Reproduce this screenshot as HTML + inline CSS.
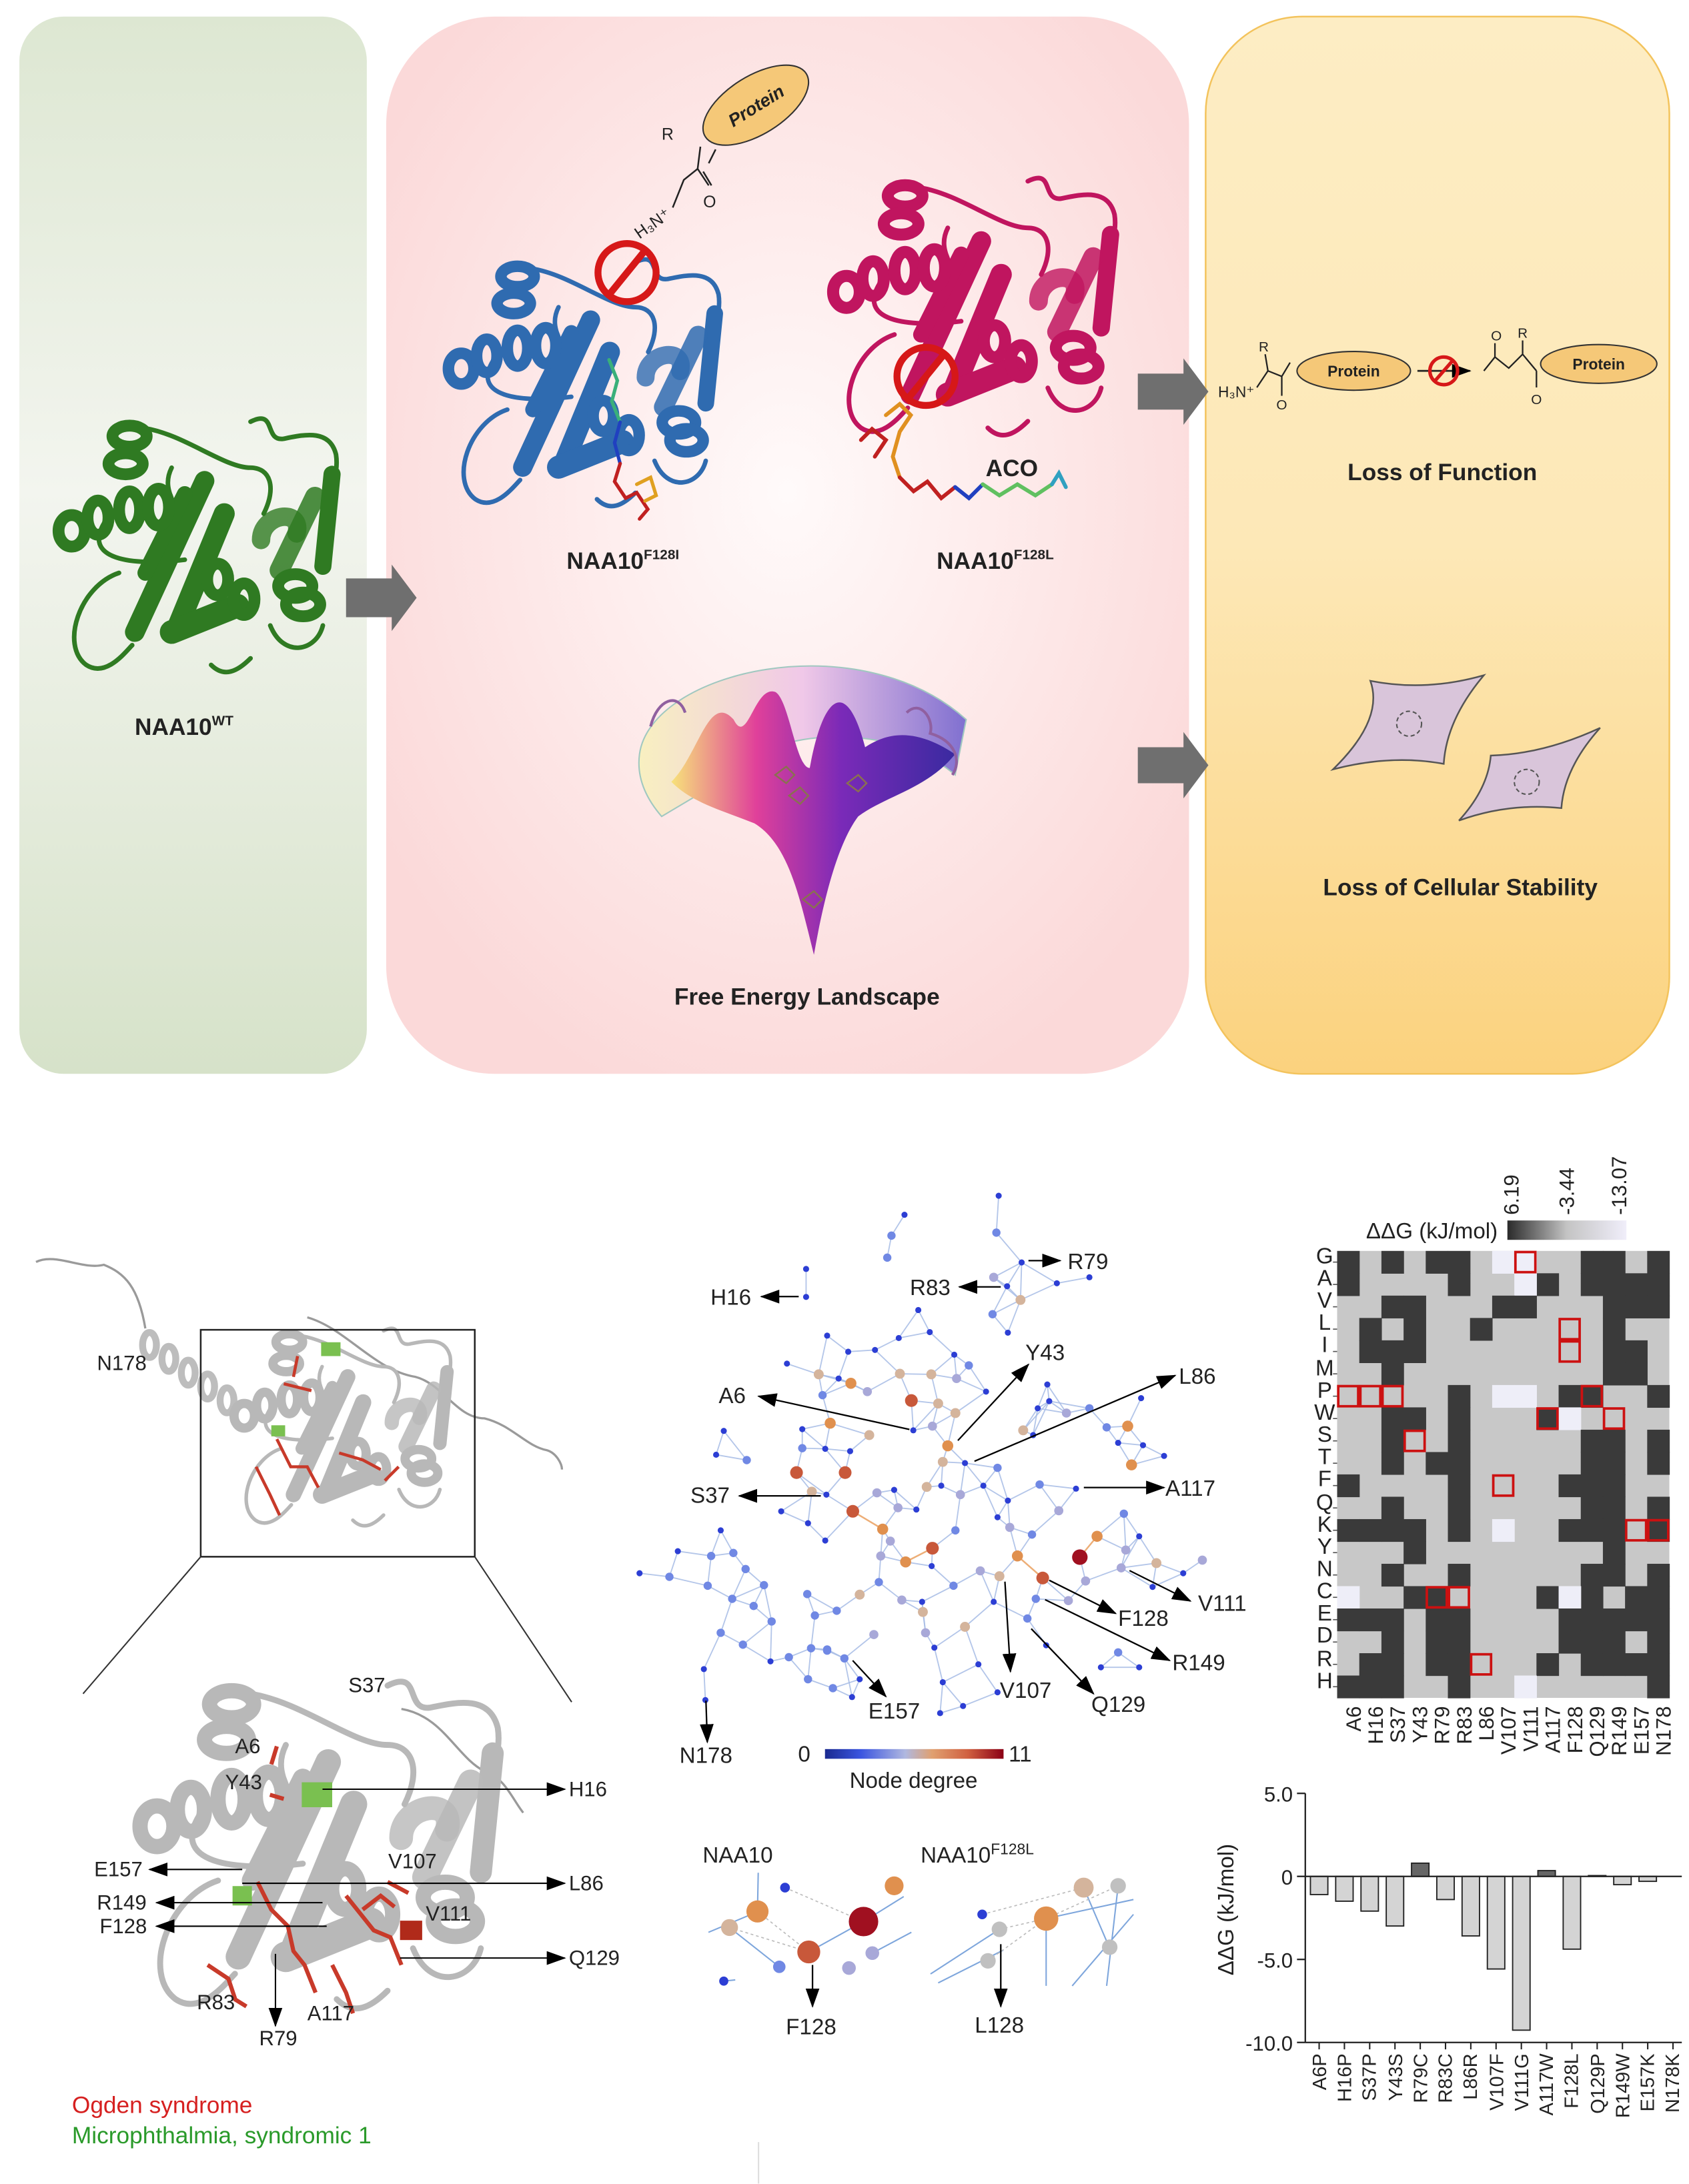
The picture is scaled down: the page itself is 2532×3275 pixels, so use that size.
<!DOCTYPE html>
<html><head><meta charset="utf-8">
<style>
html,body{margin:0;padding:0;background:#fff;}
svg{display:block;}
text{font-family:"Liberation Sans",Arial,sans-serif;}
</style></head>
<body>
<svg id="S" xmlns="http://www.w3.org/2000/svg" width="2532" height="3275" viewBox="0 0 1220.2 1578.3" preserveAspectRatio="none">
<defs>
 <linearGradient id="gGreen" x1="0" y1="0" x2="0" y2="1">
  <stop offset="0" stop-color="#dde7d2"/><stop offset="0.45" stop-color="#f3f5ef"/><stop offset="1" stop-color="#d6e2c9"/>
 </linearGradient>
 <radialGradient id="gPink" cx="0.5" cy="0.45" r="0.6">
  <stop offset="0" stop-color="#fffafa"/><stop offset="0.6" stop-color="#fde6e6"/><stop offset="1" stop-color="#fbd9d9"/>
 </radialGradient>
 <linearGradient id="gYel" x1="0" y1="0" x2="0" y2="1">
  <stop offset="0" stop-color="#fdedc4"/><stop offset="0.5" stop-color="#fde8b7"/><stop offset="1" stop-color="#fbd27e"/>
 </linearGradient>
 <linearGradient id="gLand" x1="0" y1="0" x2="1" y2="0">
  <stop offset="0" stop-color="#f7e27a"/><stop offset="0.3" stop-color="#e0409a"/><stop offset="0.6" stop-color="#7a2ab8"/><stop offset="1" stop-color="#3a2aa0"/>
 </linearGradient>
 <linearGradient id="gBowl" x1="0" y1="0" x2="1" y2="0">
  <stop offset="0" stop-color="#f8f0c0"/><stop offset="0.5" stop-color="#f0c8e8"/><stop offset="1" stop-color="#8070d0"/>
 </linearGradient>
 <linearGradient id="gHeat" x1="0" y1="0" x2="1" y2="0">
  <stop offset="0" stop-color="#2a2a2a"/><stop offset="0.5" stop-color="#c4c4c4"/><stop offset="1" stop-color="#f0eefa"/>
 </linearGradient>
 <linearGradient id="gDeg" x1="0" y1="0" x2="1" y2="0">
  <stop offset="0" stop-color="#1a2a90"/><stop offset="0.2" stop-color="#3b55e0"/><stop offset="0.45" stop-color="#b0b8e0"/><stop offset="0.6" stop-color="#e0a070"/><stop offset="0.8" stop-color="#d06040"/><stop offset="1" stop-color="#8b0015"/>
 </linearGradient>
 <marker id="ah" markerUnits="userSpaceOnUse" markerWidth="14" markerHeight="10" refX="13" refY="5" orient="auto">
  <path d="M0,0 L14,5 L0,10 z" fill="#000"/>
 </marker>
 <symbol id="prot" viewBox="0 0 220 200" overflow="visible">
  <g fill="none" stroke="currentColor" stroke-linecap="round" stroke-linejoin="round">
   <path d="M70,10 C100,15 130,40 150,40 C165,40 170,55 160,75" stroke-width="3.5"/>
   <path d="M150,5 C170,-5 160,20 175,18 C190,15 210,10 215,30 C218,50 205,60 212,80" stroke-width="3.5"/>
   <path d="M50,120 C20,130 5,175 25,190 C40,200 55,180 60,175" stroke-width="3.5"/>
   <path d="M40,80 C20,110 60,115 100,110" stroke-width="3.5"/>
   <path d="M165,160 C175,185 200,180 205,160" stroke-width="3.5"/>
   <path d="M120,190 C130,200 140,195 150,185" stroke-width="3.5"/>
   <path d="M90,40 C80,60 100,70 95,90" stroke-width="3.5"/>
   <path d="M115,50 L62,165" stroke-width="15"/>
   <path d="M130,75 L95,160" stroke-width="16"/>
   <path d="M100,60 L70,120" stroke-width="12"/>
   <path d="M90,165 L140,145" stroke-width="18"/>
   <path d="M212,45 L205,115" stroke-width="13"/>
   <path d="M199,62 L172,118" stroke-width="15" opacity="0.85"/>
   <path d="M158,95 C158,75 190,70 185,90" stroke-width="14" opacity="0.8"/>
  </g>
  <g fill="none" stroke="currentColor" stroke-width="9">
   <ellipse cx="58" cy="16" rx="13" ry="8"/>
   <ellipse cx="55" cy="37" rx="13" ry="8"/>
   <ellipse cx="14" cy="88" rx="10" ry="12"/>
   <ellipse cx="34" cy="78" rx="8" ry="13"/>
   <ellipse cx="58" cy="72" rx="8" ry="14"/>
   <ellipse cx="80" cy="70" rx="8" ry="14"/>
   <ellipse cx="125" cy="125" rx="8" ry="12"/>
   <ellipse cx="145" cy="140" rx="8" ry="12"/>
   <ellipse cx="184" cy="130" rx="13" ry="9"/>
   <ellipse cx="190" cy="144" rx="13" ry="9"/>
  </g>
 </symbol>
</defs>

<!-- TOP PANELS -->
<rect x="14" y="12" width="251" height="764" rx="32" fill="url(#gGreen)"/>
<rect x="279" y="12" width="580" height="764" rx="78" fill="url(#gPink)"/>
<rect x="871" y="12" width="335" height="764" rx="70" fill="url(#gYel)" stroke="#f3c35c" stroke-width="1.2"/>

<path d="M250,418 L283,418 L283,408 L301,432 L283,456 L283,446 L250,446 Z" fill="#6f6f6f"/>
<path d="M822,270 L855,270 L855,259 L873,283 L855,307 L855,296 L822,296 Z" fill="#6f6f6f"/>
<path d="M822,540 L855,540 L855,529 L873,553 L855,577 L855,566 L822,566 Z" fill="#6f6f6f"/>

<use href="#prot" x="32" y="300" width="222" height="190" style="color:#2f7a22"/>
<use href="#prot" x="316" y="185" width="212" height="185" style="color:#2f6bb0"/>
<use href="#prot" x="598" y="125" width="212" height="195" style="color:#c0155f"/>

<g fill="none" stroke-width="2.5" stroke-linecap="round">
 <path d="M440,260 L446,275 L442,290 L448,305" stroke="#3ab07a"/>
 <path d="M448,305 L444,320 L448,335" stroke="#2040c0"/>
 <path d="M448,335 L444,348 L452,360 L460,356 L468,368 L462,375" stroke="#c02020"/>
 <path d="M460,350 L470,345 L474,358 L466,362" stroke="#e0a020"/>
</g>
<g fill="none" stroke-width="2.8" stroke-linecap="round">
 <path d="M622,318 L630,310 L640,318 L632,330" stroke="#c02020"/>
 <path d="M640,300 L650,292 L658,300 L650,312 L645,330 L650,345" stroke="#e09020"/>
 <path d="M650,345 L660,355 L670,348 L680,360 L690,352" stroke="#c02020"/>
 <path d="M690,352 L700,360 L710,350" stroke="#2040c0"/>
 <path d="M710,350 L722,358 L735,350 L748,358 L760,350" stroke="#60c060"/>
 <path d="M760,350 L765,342 L770,352" stroke="#30a0c0"/>
</g>

<ellipse cx="546" cy="76" rx="43" ry="21" transform="rotate(-32 546 76)" fill="#f5c878" stroke="#333" stroke-width="1"/>
<text x="546" y="81" font-size="13" font-weight="bold" font-style="italic" text-anchor="middle" transform="rotate(-32 546 76)" fill="#222">Protein</text>
<path d="M486,150 L494,130 L504,122 L506,106 M504,122 L512,134 M508,124 L514,134 M512,118 L517,108" stroke="#222" stroke-width="1.2" fill="none"/>
<text x="478" y="101" font-size="12" fill="#222">R</text>
<text x="508" y="150" font-size="12" fill="#222">O</text>
<text x="456" y="166" font-size="12" fill="#222" transform="rotate(-35 470 160)">H₃N⁺</text>

<g fill="none" stroke="#d61818" stroke-width="5">
 <circle cx="453" cy="197" r="21"/><line x1="440" y1="213" x2="466" y2="181"/>
 <circle cx="669" cy="272" r="21"/><line x1="656" y1="288" x2="682" y2="256"/>
</g>

<path d="M462,545 C470,485 620,450 698,520 L690,560 C650,525 560,520 520,565 L478,590 C465,575 460,560 462,545 Z" fill="url(#gBowl)" stroke="#a0c8c0" stroke-width="1"/>
<path d="M485,565 C505,545 512,500 530,520 C540,540 545,495 560,500 C570,505 575,555 585,555 C595,500 612,490 625,540 C640,530 660,525 690,545 C670,570 640,575 620,590 C605,610 595,650 588,690 C578,650 570,610 545,595 C520,585 500,580 485,565 Z" fill="url(#gLand)"/>
<path d="M470,525 C475,505 490,500 495,515" stroke="#9060a0" stroke-width="2" fill="none"/>
<path d="M655,515 C665,505 675,520 672,530 C690,535 695,550 688,560" stroke="#9060a0" stroke-width="2" fill="none"/>
<g fill="none" stroke="#8a7050" stroke-width="1.2"><path d="M560,560 l8,-6 l6,6 l-6,6z M570,575 l8,-6 l6,6 l-6,6z M612,566 l8,-6 l6,6 l-6,6z M580,650 l8,-6 l6,6 l-6,6z"/></g>

<text x="880" y="287" font-size="11" fill="#222">H₃N⁺</text>
<path d="M908,280 L916,268 L926,272 L932,262 M916,268 L914,256 M926,272 L926,286" stroke="#222" stroke-width="1.1" fill="none"/>
<text x="913" y="254" font-size="10" fill="#222" text-anchor="middle">R</text>
<text x="926" y="296" font-size="10" fill="#222" text-anchor="middle">O</text>
<ellipse cx="978" cy="268" rx="41" ry="14" fill="#f5c878" stroke="#333" stroke-width="1"/>
<text x="978" y="272" font-size="11" font-weight="bold" text-anchor="middle" fill="#222">Protein</text>
<line x1="1024" y1="268" x2="1062" y2="268" stroke="#222" stroke-width="1.3" marker-end="url(#ah)"/>
<g fill="none" stroke="#d61818" stroke-width="2.5"><circle cx="1043" cy="268" r="10"/><line x1="1036" y1="276" x2="1050" y2="260"/></g>
<path d="M1072,268 L1080,258 L1090,266 L1100,256 L1110,268 M1080,258 L1080,248 M1100,256 L1100,246 M1110,268 L1110,280" stroke="#222" stroke-width="1.1" fill="none"/>
<text x="1081" y="246" font-size="10" fill="#222" text-anchor="middle">O</text>
<text x="1100" y="244" font-size="10" fill="#222" text-anchor="middle">R</text>
<text x="1110" y="292" font-size="10" fill="#222" text-anchor="middle">O</text>
<ellipse cx="1155" cy="263" rx="42" ry="14" fill="#f5c878" stroke="#333" stroke-width="1"/>
<text x="1155" y="267" font-size="11" font-weight="bold" text-anchor="middle" fill="#222">Protein</text>

<path d="M963,556 Q1000,520 990,492 Q1030,500 1072,488 Q1045,520 1043,552 Q1005,545 963,556 Z" fill="#d9c5da" stroke="#555" stroke-width="1.2"/>
<circle cx="1018" cy="523" r="9" fill="none" stroke="#555" stroke-dasharray="3 2"/>
<path d="M1054,593 Q1075,570 1077,546 Q1115,545 1156,526 Q1130,555 1128,584 Q1090,580 1054,593 Z" fill="#d9c5da" stroke="#555" stroke-width="1.2"/>
<circle cx="1103" cy="565" r="9" fill="none" stroke="#555" stroke-dasharray="3 2"/>

<g font-weight="bold" font-size="17" fill="#222" text-anchor="middle">
 <text x="133" y="531">NAA10<tspan font-size="10" dy="-7">WT</tspan></text>
 <text x="450" y="411">NAA10<tspan font-size="10" dy="-7">F128I</tspan></text>
 <text x="719" y="411">NAA10<tspan font-size="10" dy="-7">F128L</tspan></text>
 <text x="731" y="344">ACO</text>
 <text x="583" y="726">Free Energy Landscape</text>
 <text x="1042" y="347">Loss of Function</text>
 <text x="1055" y="647">Loss of Cellular Stability</text>
</g>

<!-- BOTTOM LEFT -->
<g fill="none" stroke="#9a9a9a" stroke-width="1.6">
 <path d="M26,912 C40,905 60,918 75,914 C90,920 100,930 105,960"/>
 <path d="M222,952 C250,960 270,990 300,995 C320,1000 330,1025 350,1025 C370,1030 380,1045 395,1048 C402,1050 406,1058 406,1062"/>
 <path d="M290,1235 C320,1240 330,1270 350,1280 C365,1285 370,1300 378,1310"/>
</g>
<g fill="none" stroke="#bdbdbd" stroke-width="5">
 <ellipse cx="108" cy="972" rx="5" ry="9"/><ellipse cx="122" cy="982" rx="5" ry="9"/><ellipse cx="136" cy="992" rx="5" ry="9"/><ellipse cx="150" cy="1002" rx="5" ry="9"/><ellipse cx="164" cy="1012" rx="5" ry="9"/>
</g>
<use href="#prot" x="160" y="958" width="175" height="148" style="color:#b8b8b8"/>
<g fill="none" stroke="#c83a2a" stroke-width="2.2"><path d="M215,980 L212,995 M205,1000 L225,1005 M200,1040 L210,1060 L222,1060 L230,1075 M245,1050 L262,1055 L275,1062 M185,1060 L195,1080 L202,1095 M278,1070 L288,1060"/></g>
<rect x="232" y="970" width="14" height="10" fill="#7ac050"/><rect x="196" y="1030" width="10" height="8" fill="#7ac050"/>
<text x="88" y="990" font-size="15" text-anchor="middle" fill="#222">N178</text>
<rect x="145" y="961" width="198" height="164" fill="none" stroke="#222" stroke-width="1.2"/>
<line x1="145" y1="1125" x2="60" y2="1224" stroke="#333" stroke-width="1"/>
<line x1="343" y1="1125" x2="413" y2="1230" stroke="#333" stroke-width="1"/>
<use href="#prot" x="72" y="1212" width="318" height="245" style="color:#b8b8b8"/>
<g fill="none" stroke="#c83a2a" stroke-width="3"><path d="M200,1262 L196,1275 M195,1297 L205,1300 M186,1360 L196,1380 L208,1392 L212,1410 L220,1420 L228,1440 M150,1420 L165,1430 L170,1445 L178,1450 M250,1370 L262,1385 L270,1395 L282,1400 L290,1420 M280,1360 L295,1368 M262,1380 L275,1370 L285,1378 M240,1420 L250,1440 L255,1455"/></g>
<rect x="218" y="1288" width="22" height="18" fill="#7ac050"/><rect x="168" y="1363" width="14" height="14" fill="#7ac050"/>
<rect x="289" y="1388" width="16" height="14" fill="#b02a1a"/>
<g stroke="#000" stroke-width="1" fill="none" marker-end="url(#ah)">
 <line x1="233" y1="1293" x2="408" y2="1293"/>
 <line x1="175" y1="1351" x2="108" y2="1351"/>
 <line x1="175" y1="1361" x2="408" y2="1361"/>
 <line x1="233" y1="1375" x2="113" y2="1375"/>
 <line x1="236" y1="1392" x2="113" y2="1392"/>
 <line x1="289" y1="1415" x2="408" y2="1415"/>
 <line x1="199" y1="1412" x2="199" y2="1464"/>
</g>
<g font-size="15" fill="#222">
 <text x="265" y="1223" text-anchor="middle">S37</text>
 <text x="179" y="1267" text-anchor="middle">A6</text>
 <text x="176" y="1293" text-anchor="middle">Y43</text>
 <text x="411" y="1298">H16</text>
 <text x="68" y="1356">E157</text>
 <text x="298" y="1350" text-anchor="middle">V107</text>
 <text x="411" y="1366">L86</text>
 <text x="70" y="1380">R149</text>
 <text x="324" y="1388" text-anchor="middle">V111</text>
 <text x="72" y="1397">F128</text>
 <text x="411" y="1420">Q129</text>
 <text x="156" y="1452" text-anchor="middle">R83</text>
 <text x="239" y="1460" text-anchor="middle">A117</text>
 <text x="201" y="1478" text-anchor="middle">R79</text>
 <text x="52" y="1527" font-size="17" fill="#d62020">Ogden syndrome</text>
 <text x="52" y="1549" font-size="17" fill="#2a9a2a">Microphthalmia, syndromic 1</text>
</g>
<line x1="548" y1="1548" x2="548" y2="1578" stroke="#ddd" stroke-width="1"/>

<!-- NETWORK -->
<g id="net"></g>
<g stroke="#000" stroke-width="1.1" fill="none" marker-end="url(#ah)">
 <line x1="577" y1="937" x2="550" y2="937"/>
 <line x1="723" y1="930" x2="693" y2="930"/>
 <line x1="743" y1="911" x2="766" y2="911"/>
 <line x1="692" y1="1041" x2="743" y2="986"/>
 <line x1="657" y1="1033" x2="548" y2="1009"/>
 <line x1="704" y1="1056" x2="849" y2="994"/>
 <line x1="593" y1="1081" x2="534" y2="1081"/>
 <line x1="783" y1="1075" x2="841" y2="1075"/>
 <line x1="816" y1="1135" x2="860" y2="1157"/>
 <line x1="758" y1="1142" x2="806" y2="1166"/>
 <line x1="755" y1="1156" x2="845" y2="1200"/>
 <line x1="745" y1="1177" x2="790" y2="1224"/>
 <line x1="726" y1="1143" x2="730" y2="1208"/>
 <line x1="616" y1="1200" x2="640" y2="1226"/>
 <line x1="510" y1="1229" x2="511" y2="1259"/>
 <line x1="587" y1="1420" x2="587" y2="1450"/>
 <line x1="723" y1="1405" x2="723" y2="1450"/>
</g>
<g font-size="16" fill="#222" text-anchor="middle">
 <text x="528" y="943">H16</text>
 <text x="672" y="936">R83</text>
 <text x="786" y="917">R79</text>
 <text x="755" y="983">Y43</text>
 <text x="529" y="1014">A6</text>
 <text x="865" y="1000">L86</text>
 <text x="513" y="1086">S37</text>
 <text x="860" y="1081">A117</text>
 <text x="883" y="1164">V111</text>
 <text x="826" y="1175">F128</text>
 <text x="866" y="1207">R149</text>
 <text x="808" y="1237">Q129</text>
 <text x="741" y="1227">V107</text>
 <text x="646" y="1242">E157</text>
 <text x="510" y="1274">N178</text>
 <text x="581" y="1273">0</text>
 <text x="737" y="1273">11</text>
 <text x="660" y="1292">Node degree</text>
 <text x="533" y="1346">NAA10</text>
 <text x="706" y="1346">NAA10<tspan font-size="11" dy="-6">F128L</tspan></text>
 <text x="586" y="1470">F128</text>
 <text x="722" y="1469">L128</text>
</g>
<rect x="596" y="1264" width="129" height="7" fill="url(#gDeg)"/>

<!-- HEATMAP -->
<g id="heat"></g>
<rect x="1089" y="882" width="86" height="14" fill="url(#gHeat)"/>
<text x="1082" y="895" font-size="16" text-anchor="end" fill="#222">ΔΔG (kJ/mol)</text>
<g font-size="15" fill="#222">
 <text transform="translate(1097,878) rotate(-90)">6.19</text>
 <text transform="translate(1137,878) rotate(-90)">-3.44</text>
 <text transform="translate(1175,878) rotate(-90)">-13.07</text>
</g>
<g font-size="16" fill="#222" text-anchor="middle">
 <text x="957" y="913">G</text><text x="957" y="929">A</text><text x="957" y="945">V</text><text x="957" y="961">L</text><text x="957" y="977">I</text>
 <text x="957" y="994">M</text><text x="957" y="1010">P</text><text x="957" y="1026">W</text><text x="957" y="1042">S</text><text x="957" y="1058">T</text>
 <text x="957" y="1074">F</text><text x="957" y="1091">Q</text><text x="957" y="1107">K</text><text x="957" y="1123">Y</text><text x="957" y="1139">N</text>
 <text x="957" y="1155">C</text><text x="957" y="1171">E</text><text x="957" y="1187">D</text><text x="957" y="1204">R</text><text x="957" y="1220">H</text>
</g>
<g font-size="15" fill="#222" text-anchor="end">
 <text transform="translate(983,1233) rotate(-90)">A6</text>
 <text transform="translate(999,1233) rotate(-90)">H16</text>
 <text transform="translate(1015,1233) rotate(-90)">S37</text>
 <text transform="translate(1031,1233) rotate(-90)">Y43</text>
 <text transform="translate(1047,1233) rotate(-90)">R79</text>
 <text transform="translate(1063,1233) rotate(-90)">R83</text>
 <text transform="translate(1079,1233) rotate(-90)">L86</text>
 <text transform="translate(1095,1233) rotate(-90)">V107</text>
 <text transform="translate(1111,1233) rotate(-90)">V111</text>
 <text transform="translate(1127,1233) rotate(-90)">A117</text>
 <text transform="translate(1143,1233) rotate(-90)">F128</text>
 <text transform="translate(1159,1233) rotate(-90)">Q129</text>
 <text transform="translate(1175,1233) rotate(-90)">R149</text>
 <text transform="translate(1191,1233) rotate(-90)">E157</text>
 <text transform="translate(1207,1233) rotate(-90)">N178</text>
</g>

<!-- BAR CHART -->
<g id="bars"></g>
<g stroke="#222" stroke-width="1.1" fill="none">
 <line x1="943" y1="1296" x2="943" y2="1476"/>
 <line x1="943" y1="1356" x2="1215" y2="1356"/>
 <line x1="943" y1="1476" x2="1215" y2="1476"/>
 <line x1="937" y1="1296" x2="943" y2="1296"/><line x1="937" y1="1356" x2="943" y2="1356"/><line x1="937" y1="1416" x2="943" y2="1416"/><line x1="937" y1="1476" x2="943" y2="1476"/>
</g>
<g font-size="15" fill="#222" text-anchor="end">
 <text x="934" y="1302">5.0</text><text x="934" y="1362">0</text><text x="934" y="1422">-5.0</text><text x="934" y="1482">-10.0</text>
</g>
<text transform="translate(891,1380) rotate(-90)" font-size="16" text-anchor="middle" fill="#222">ΔΔG (kJ/mol)</text>
<g font-size="14" fill="#222" text-anchor="end">
 <text transform="translate(958,1484) rotate(-90)">A6P</text>
 <text transform="translate(976,1484) rotate(-90)">H16P</text>
 <text transform="translate(994,1484) rotate(-90)">S37P</text>
 <text transform="translate(1013,1484) rotate(-90)">Y43S</text>
 <text transform="translate(1031,1484) rotate(-90)">R79C</text>
 <text transform="translate(1049,1484) rotate(-90)">R83C</text>
 <text transform="translate(1067,1484) rotate(-90)">L86R</text>
 <text transform="translate(1086,1484) rotate(-90)">V107F</text>
 <text transform="translate(1104,1484) rotate(-90)">V111G</text>
 <text transform="translate(1122,1484) rotate(-90)">A117W</text>
 <text transform="translate(1140,1484) rotate(-90)">F128L</text>
 <text transform="translate(1159,1484) rotate(-90)">Q129P</text>
 <text transform="translate(1177,1484) rotate(-90)">R149W</text>
 <text transform="translate(1195,1484) rotate(-90)">E157K</text>
 <text transform="translate(1213,1484) rotate(-90)">N178K</text>
</g>
</svg>
<script>
(function(){
var NS="http://www.w3.org/2000/svg";
function el(t,a,p){var e=document.createElementNS(NS,t);for(var k in a)e.setAttribute(k,a[k]);p.appendChild(e);return e;}
var heat=document.getElementById('heat');
var rows=[
[[0,2,4,5,11,12,14],[7,8],[8]],
[[0,5,9,11,12,13,14],[8],[]],
[[2,3,7,8,12,13,14],[],[]],
[[1,3,6,12],[],[10]],
[[1,2,3,12,13],[],[10]],
[[2,12,13],[],[]],
[[5,10,11,14],[7,8],[0,1,2,11]],
[[2,3,5,9],[10],[9,12]],
[[2,5,11,12,14],[],[3]],
[[2,4,5,11,12,14],[],[]],
[[0,5,10,11,12],[],[7]],
[[2,5,11,12,14],[],[]],
[[0,1,2,3,5,10,11,12,14],[7],[13,14]],
[[3,12],[],[]],
[[2,5,11,12,14],[],[]],
[[3,4,9,11,13,14],[0,10],[4,5]],
[[0,1,2,4,5,10,11,12,13,14],[],[]],
[[2,4,5,10,11,12,14],[],[]],
[[1,2,4,5,9,11,12,13,14],[],[6]],
[[0,1,2,5,14],[8],[]]];
var X0=966,Y0=904,CW=16,RH=16.15;
el('rect',{x:X0,y:Y0,width:CW*15,height:RH*20,fill:'#c8c8c8'},heat);
rows.forEach(function(r,i){
 r[0].forEach(function(c){el('rect',{x:X0+c*CW,y:Y0+i*RH,width:CW+0.3,height:RH+0.3,fill:'#3a3a3a'},heat);});
 r[1].forEach(function(c){el('rect',{x:X0+c*CW,y:Y0+i*RH,width:CW+0.3,height:RH+0.3,fill:'#eeeef8'},heat);});
});
rows.forEach(function(r,i){
 r[2].forEach(function(c){el('rect',{x:X0+c*CW+0.8,y:Y0+i*RH+0.8,width:CW-1.6,height:RH-1.6,fill:'none',stroke:'#cc1111','stroke-width':1.8},heat);});
});
for(var i=0;i<20;i++)el('line',{x1:X0-3,x2:X0,y1:Y0+i*RH+RH/2,y2:Y0+i*RH+RH/2,stroke:'#555','stroke-width':0.8},heat);
var bars=document.getElementById('bars');
var vals=[-1.1,-1.5,-2.1,-3.0,0.8,-1.4,-3.6,-5.6,-9.3,0.35,-4.4,0.05,-0.5,-0.3,0];
vals.forEach(function(v,i){
 var cx=953+i*18.26,y0=1356,h=v*11.95;
 if(Math.abs(v)<0.01)return;
 var y=h>0?y0-h:y0, hh=Math.abs(h);
 el('rect',{x:cx-6.3,y:y,width:12.6,height:hh,fill:v>0.2?'#666':'#d4d4d4',stroke:'#222','stroke-width':0.9},bars);
});
for(var i=0;i<15;i++){var x=953+i*18.26;el('line',{x1:x,x2:x,y1:1476,y2:1481,stroke:'#222','stroke-width':1},bars);}
var net=document.getElementById('net');
var C={b:['#2c3ed4',2.2],l:['#7088e4',3],g:['#a8a8d8',3.3],t:['#d4b49c',3.6],o:['#e0904e',4],r:['#c8583a',4.6],d:['#a01020',5.6]};
var N=[[988,63,'b'],[982,125,'l'],[975,200,'g'],[1048,175,'b'],[1010,215,'b'],[1045,238,'t'],[972,262,'l'],[1140,210,'b'],[1225,200,'b'],[742,95,'b'],[708,130,'l'],[697,167,'l'],
[485,186,'b'],[485,233,'b'],[540,298,'b'],[595,325,'b'],[665,322,'b'],[727,302,'b'],[778,255,'b'],[808,292,'b'],[872,330,'b'],[910,348,'l'],[1012,293,'b'],
[435,345,'b'],[518,363,'t'],[570,370,'b'],[602,378,'o'],[528,398,'l'],[645,392,'g'],[730,362,'t'],[812,363,'t'],[878,370,'g'],[760,407,'r'],[830,412,'t'],[875,428,'t'],[815,450,'g'],[765,457,'b'],[955,392,'b'],
[548,445,'o'],[475,455,'b'],[650,465,'t'],[270,458,'b'],[250,498,'b'],[330,507,'l'],[475,487,'l'],[535,488,'b'],[600,492,'b'],[855,483,'o'],[842,510,'t'],[900,512,'b'],[985,520,'l'],
[460,528,'r'],[587,528,'r'],[500,560,'t'],[538,565,'b'],[670,562,'g'],[715,557,'b'],[800,552,'t'],[838,550,'b'],[888,565,'g'],[948,550,'b'],[1012,575,'b'],
[420,593,'b'],[490,613,'b'],[607,593,'r'],[725,587,'g'],[773,590,'b'],[535,642,'b'],[685,623,'o'],[705,643,'g'],[875,625,'l'],[1017,620,'g'],[1075,632,'l'],[985,603,'b'],
[680,668,'g'],[745,678,'o'],[815,655,'r'],[813,685,'b'],[1037,668,'o'],[940,693,'g'],[990,702,'t'],[1103,705,'r'],[1200,670,'d'],[1245,635,'o'],[1215,710,'g'],[1170,743,'g'],[1085,740,'l'],[1145,592,'g'],[1095,548,'l'],[1190,555,'b'],
[675,712,'l'],[735,742,'g'],[788,745,'b'],[870,718,'l'],[975,745,'b'],[1063,773,'l'],[1112,818,'b'],[790,762,'t'],[900,787,'t'],[797,797,'g'],[820,822,'b'],[662,800,'g'],[625,733,'t'],[585,840,'l'],[540,825,'l'],[842,880,'b'],[895,920,'b'],[835,932,'b'],[935,850,'b'],[985,897,'b'],
[1120,408,'b'],[1090,420,'b'],[1165,428,'g'],[1225,420,'l'],[1270,452,'l'],[1300,478,'b'],[1325,450,'o'],[1365,482,'b'],[1335,515,'o'],[1420,500,'b'],[1360,403,'b'],[1115,380,'b'],[1052,457,'t'],[1078,465,'b'],
[1315,597,'l'],[1355,635,'b'],[1320,658,'g'],[1308,688,'g'],[1400,680,'t'],[1470,697,'b'],[1520,675,'g'],[1390,720,'b'],[1300,830,'l'],[1255,855,'b'],[1355,855,'b'],
[50,697,'b'],[128,703,'l'],[150,660,'b'],[237,668,'l'],[262,625,'b'],[295,663,'l'],[228,718,'l'],[327,690,'l'],[375,717,'l'],[292,740,'l'],[348,752,'l'],[395,778,'l'],[262,797,'l'],[320,817,'l'],[392,845,'b'],[440,838,'l'],[488,732,'l'],[508,768,'l'],[565,760,'l'],[498,823,'l'],[540,827,'l'],[490,875,'l'],[555,890,'l'],[605,905,'b'],[625,875,'b'],[218,858,'b'],[222,910,'b']];
function P(n){return [448.2+n[0]*0.2766,837+n[1]*0.4303];}
var pts=N.map(P);
var eg=el('g',{},net),ng=el('g',{},net);
var seen={};
pts.forEach(function(p,i){
 var d=pts.map(function(q,j){return [Math.hypot(q[0]-p[0],q[1]-p[1]),j];}).sort(function(a,b){return a[0]-b[0];});
 for(var k=1;k<=3;k++){var j=d[k][1];if(d[k][0]>30)break;var key=Math.min(i,j)+'_'+Math.max(i,j);if(seen[key])continue;seen[key]=1;
  var hot=('ord'.indexOf(N[i][2])>=0&&'ord'.indexOf(N[j][2])>=0);
  el('line',{x1:p[0],y1:p[1],x2:pts[j][0],y2:pts[j][1],stroke:hot?'#eaa060':'#a8bde6','stroke-width':hot?1.2:0.9,opacity:0.85},eg);}
});
pts.forEach(function(p,i){var c=C[N[i][2]];el('circle',{cx:p[0],cy:p[1],r:c[1],fill:c[0]},ng);});
var I=[[358,1265,'o',2],[285,1292,'t',1.7],[430,1225,'b',1.6],[715,1222,'o',1.7],[635,1282,'d',1.9],[492,1333,'r',1.8],[658,1335,'g',1.5],[597,1360,'g',1.5],[415,1358,'l',1.5],[270,1382,'b',1.5],
[945,1270,'b',1.6],[990,1295,'x',1.7],[960,1348,'x',1.7],[1112,1277,'o',2.2],[1210,1225,'t',2],[1300,1222,'x',1.7],[1278,1325,'x',1.7]];
var ig=el('g',{},net);
var lines=[[[230,1300],[360,1265]],[[285,1292],[415,1358]],[[358,1265],[360,1200]],[[492,1333],[635,1282]],[[635,1282],[740,1240]],[[658,1335],[760,1300]],[[300,1380],[270,1382]],
[[810,1370],[990,1295]],[[830,1385],[1000,1330]],[[1112,1277],[1112,1390]],[[1112,1277],[1340,1245]],[[1210,1225],[1280,1330]],[[1300,1222],[1270,1390]],[[1180,1390],[1340,1270]]];
lines.forEach(function(l){var a=P(l[0]),b=P(l[1]);el('line',{x1:a[0],y1:a[1],x2:b[0],y2:b[1],stroke:'#7ea6dc','stroke-width':1},ig);});
var dl=[[[358,1265],[492,1333]],[[430,1225],[635,1282]],[[285,1292],[492,1333]],[[990,1295],[1112,1277]],[[960,1348],[1112,1277]],[[945,1270],[1210,1225]],[[1112,1277],[1300,1222]]];
dl.forEach(function(l){var a=P(l[0]),b=P(l[1]);el('line',{x1:a[0],y1:a[1],x2:b[0],y2:b[1],stroke:'#bbb','stroke-width':0.8,'stroke-dasharray':'2 2'},ig);});
I.forEach(function(n){var p=P(n),c=n[2]=='x'?['#c0c0c0',3.3]:C[n[2]];el('circle',{cx:p[0],cy:p[1],r:c[1]*n[3],fill:c[0]},ig);});
})();
</script>
</body></html>
